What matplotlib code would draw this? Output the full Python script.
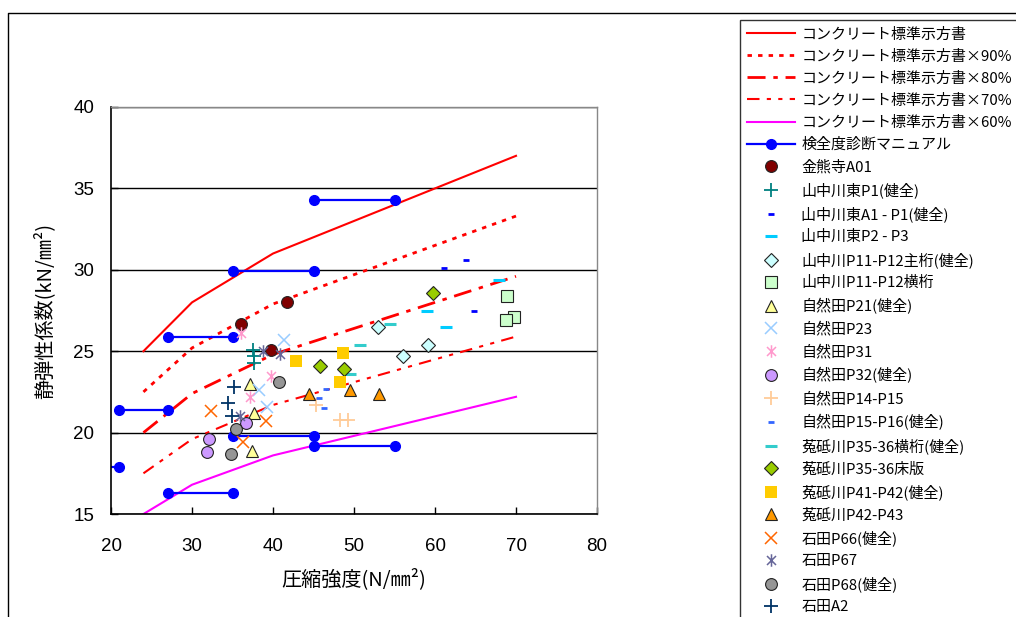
import matplotlib
matplotlib.use('Agg')
import matplotlib.pyplot as plt
from matplotlib.path import Path
from matplotlib.lines import Line2D

plt.rcParams['font.family'] = ['Noto Sans CJK JP', 'DejaVu Sans']

# --- design-standard curves (compressive strength vs. elastic modulus)
fc_std = [24, 30, 40, 50, 60, 70]
ec_std = [25.0, 28.0, 31.0, 33.0, 35.0, 37.0]
ec_90 = [22.5, 25.2, 27.9, 29.7, 31.5, 33.3]
ec_80 = [20.0, 22.4, 24.8, 26.4, 28.0, 29.6]
ec_70 = [17.5, 19.6, 21.7, 23.1, 24.5, 25.9]
ec_60 = [15.0, 16.8, 18.6, 19.8, 21.0, 22.2]

# --- manual ranges (horizontal segments)
manual_fc_from = [15, 21, 27, 35, 45, 27, 35, 45]
manual_fc_to = [21, 27, 35, 45, 55, 35, 45, 55]
manual_ec = [17.9, 21.4, 25.9, 29.9, 34.3, 16.3, 19.8, 19.2]

# --- measured points
kinkumaji_x = [36.0, 39.8, 41.7]
kinkumaji_y = [26.7, 25.1, 28.0]
yamahigashi_p1_x = [37.5, 37.6, 37.7]
yamahigashi_p1_y = [25.1, 24.7, 24.3]
yamahigashi_a1_x = [61.1, 63.8, 64.8]
yamahigashi_a1_y = [30.1, 30.6, 27.5]
yamahigashi_p2_x = [67.9, 59.0, 61.4]
yamahigashi_p2_y = [29.4, 27.5, 26.5]
yama_main_x = [52.9, 59.1, 56.0]
yama_main_y = [26.5, 25.4, 24.7]
yama_cross_x = [68.9, 69.8, 68.8]
yama_cross_y = [28.4, 27.1, 26.9]
jinenda_p21_x = [37.2, 37.7, 37.4]
jinenda_p21_y = [23.0, 21.2, 18.9]
jinenda_p23_x = [41.4, 38.3, 39.2]
jinenda_p23_y = [25.7, 22.6, 21.6]
jinenda_p31_x = [36.1, 39.7, 37.2]
jinenda_p31_y = [26.1, 23.5, 22.2]
jinenda_p32_x = [36.7, 32.1, 31.8]
jinenda_p32_y = [20.6, 19.6, 18.8]
jinenda_p14_x = [45.3, 48.3, 49.3]
jinenda_p14_y = [21.7, 20.8, 20.8]
jinenda_p15_x = [46.6, 45.7, 46.3]
jinenda_p15_y = [22.7, 22.1, 21.5]
utogi_p35g_x = [50.7, 54.5, 49.5]
utogi_p35g_y = [25.4, 26.7, 23.6]
utogi_p35s_x = [45.8, 48.8, 59.8]
utogi_p35s_y = [24.1, 23.9, 28.6]
utogi_p41_x = [42.8, 48.6, 48.3]
utogi_p41_y = [24.4, 24.9, 23.1]
utogi_p42_x = [44.4, 49.5, 53.1]
utogi_p42_y = [22.4, 22.6, 22.4]
ishida_p66_x = [32.4, 39.1, 36.3]
ishida_p66_y = [21.3, 20.7, 19.4]
ishida_p67_x = [38.8, 40.8, 35.9]
ishida_p67_y = [25.0, 24.8, 21.0]
ishida_p68_x = [40.7, 35.4, 34.8]
ishida_p68_y = [23.1, 20.2, 18.7]
ishida_a2_x = [35.2, 34.5, 34.9]
ishida_a2_y = [22.8, 21.8, 21.0]

std_labels = ['コンクリート標準示方書', 'コンクリート標準示方書×90%',
              'コンクリート標準示方書×80%', 'コンクリート標準示方書×70%',
              'コンクリート標準示方書×60%']
manual_label = '検全度診断マニュアル'
series_labels = ['金熊寺A01', '山中川東P1(健全)', '山中川東A1 - P1(健全)', '山中川東P2 - P3',
                 '山中川P11-P12主桁(健全)', '山中川P11-P12横桁', '自然田P21(健全)', '自然田P23',
                 '自然田P31', '自然田P32(健全)', '自然田P14-P15', '自然田P15-P16(健全)',
                 '菟砥川P35-36横桁(健全)', '菟砥川P35-36床版', '菟砥川P41-P42(健全)',
                 '菟砥川P42-P43', '石田P66(健全)', '石田P67', '石田P68(健全)', '石田A2']

# asterisk marker like the spreadsheet one (vertical + X)
star = Path([(0, -1), (0, 1), (-0.72, -0.72), (0.72, 0.72), (-0.72, 0.72), (0.72, -0.72)],
            [Path.MOVETO, Path.LINETO, Path.MOVETO, Path.LINETO, Path.MOVETO, Path.LINETO])

ek = '#222222'
series = [
    (kinkumaji_x, kinkumaji_y, dict(marker='o', ms=8.5, mfc='#800000', mec=ek, mew=0.8)),
    (yamahigashi_p1_x, yamahigashi_p1_y, dict(marker='+', ms=10, mec='#008080', mew=1.3)),
    (yamahigashi_a1_x, yamahigashi_a1_y, dict(marker='_', ms=5, mec='#0000FF', mew=2)),
    (yamahigashi_p2_x, yamahigashi_p2_y, dict(marker='_', ms=8.5, mec='#00CCFF', mew=2.2)),
    (yama_main_x, yama_main_y, dict(marker='D', ms=7, mfc='#CCFFFF', mec=ek, mew=0.8)),
    (yama_cross_x, yama_cross_y, dict(marker='s', ms=8, mfc='#CCFFCC', mec=ek, mew=0.8)),
    (jinenda_p21_x, jinenda_p21_y, dict(marker='^', ms=9, mfc='#FFFF99', mec=ek, mew=0.8)),
    (jinenda_p23_x, jinenda_p23_y, dict(marker='x', ms=9, mec='#99CCFF', mew=1.1)),
    (jinenda_p31_x, jinenda_p31_y, dict(marker=star, ms=9, mec='#FF99CC', mew=1.1)),
    (jinenda_p32_x, jinenda_p32_y, dict(marker='o', ms=8.5, mfc='#CC99FF', mec=ek, mew=0.8)),
    (jinenda_p14_x, jinenda_p14_y, dict(marker='+', ms=10, mec='#FFCC99', mew=1.3)),
    (jinenda_p15_x, jinenda_p15_y, dict(marker='_', ms=5, mec='#3366FF', mew=2)),
    (utogi_p35g_x, utogi_p35g_y, dict(marker='_', ms=8.5, mec='#33CCCC', mew=2.2)),
    (utogi_p35s_x, utogi_p35s_y, dict(marker='D', ms=7, mfc='#99CC00', mec=ek, mew=0.8)),
    (utogi_p41_x, utogi_p41_y, dict(marker='s', ms=8.5, mfc='#FFCC00', mec='#FFCC00', mew=0)),
    (utogi_p42_x, utogi_p42_y, dict(marker='^', ms=9, mfc='#FF9900', mec=ek, mew=0.8)),
    (ishida_p66_x, ishida_p66_y, dict(marker='x', ms=9, mec='#FF6600', mew=1.1)),
    (ishida_p67_x, ishida_p67_y, dict(marker=star, ms=9, mec='#666699', mew=1.1)),
    (ishida_p68_x, ishida_p68_y, dict(marker='o', ms=8.5, mfc='#969696', mec=ek, mew=0.8)),
    (ishida_a2_x, ishida_a2_y, dict(marker='+', ms=10, mec='#003366', mew=1.3)),
]

fig = plt.figure(figsize=(10.16, 6.17), dpi=100)
ax = fig.add_axes([0.1093, 0.1669, 0.4783, 0.6597])

# standard curves
ax.plot(fc_std, ec_std, color='#FF0000', lw=1.5, label=std_labels[0])
ax.plot(fc_std, ec_90, color='#FF0000', lw=2, dashes=(1.6, 2.2), label=std_labels[1])
ax.plot(fc_std, ec_80, color='#FF0000', lw=2, dashes=(6.5, 2.8, 1.6, 2.8), label=std_labels[2])
ax.plot(fc_std, ec_70, color='#FF0000', lw=1.5, dashes=(6, 3.5, 2, 3.5, 2, 3.5), label=std_labels[3])
ax.plot(fc_std, ec_60, color='#FF00FF', lw=1.5, label=std_labels[4])

for i in range(len(manual_ec)):
    ax.plot([manual_fc_from[i], manual_fc_to[i]], [manual_ec[i], manual_ec[i]],
            color='#0000FF', lw=1.6, marker='o', ms=7,
            label=manual_label if i == 0 else None)

for (xs, ys, st), lab in zip(series, series_labels):
    ax.plot(xs, ys, ls='none', label=lab, **st)

ax.set_xlim(20, 80)
ax.set_ylim(15, 40)
ax.set_xticks([20, 30, 40, 50, 60, 70, 80])
ax.set_yticks([15, 20, 25, 30, 35, 40])
ax.yaxis.grid(True, color='black', lw=1)
ax.set_axisbelow(True)

for s in ['left', 'bottom']:
    ax.spines[s].set_color('black')
    ax.spines[s].set_linewidth(1.2)
for s in ['top', 'right']:
    ax.spines[s].set_color('#888888')
    ax.spines[s].set_linewidth(1)

ax.tick_params(direction='in', length=5, width=1, colors='black', labelsize=13.5)
ax.tick_params(axis='x', pad=17)
ax.tick_params(axis='y', pad=12)
for t in ax.get_xticklabels() + ax.get_yticklabels():
    t.set_fontfamily('Liberation Sans')

ax.set_xlabel('圧縮強度(N/㎜²)', fontsize=14.5, labelpad=10)
ax.set_ylabel('静弾性係数(kN/㎜²)', fontsize=14.5, labelpad=13)

leg = fig.legend(loc='upper left', bbox_to_anchor=(0.7283, 0.0, 0.29, 0.9676), mode='expand',
                 borderaxespad=0, fontsize=10.8, frameon=True, fancybox=False,
                 edgecolor='black', handlelength=3.2, handletextpad=0.4, borderpad=0.5,
                 labelspacing=0.53, numpoints=1)
leg.get_frame().set_linewidth(1)

# outer chart-area frame
fig.add_artist(Line2D([0.0079, 0.0079, 1.0], [0.0, 0.979, 0.979],
                      transform=fig.transFigure, color='black', lw=1))

fig.savefig('out.png', dpi=100)
